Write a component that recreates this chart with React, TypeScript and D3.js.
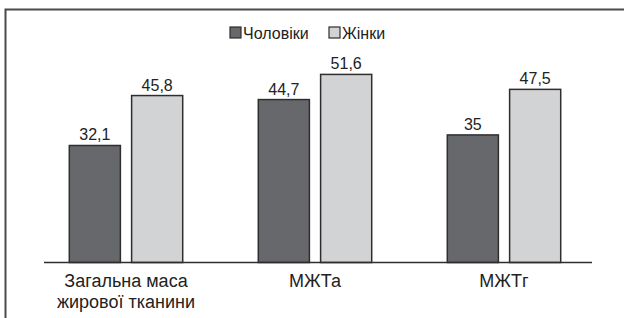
import React, { useEffect, useRef } from "react";
import * as d3 from "d3";

// data
const categories = ["Загальна маса\nжирової тканини", "МЖТа", "МЖТг"];
const seriesNames = ["Чоловіки", "Жінки"];
const men = [32.1, 44.7, 35];
const women = [45.8, 51.6, 47.5];
const valueLabels = [
  ["32,1", "44,7", "35"],
  ["45,8", "51,6", "47,5"],
];

const colors = ["#67686b", "#d2d3d5"];
const font = "'Liberation Sans', Arial, sans-serif";

export default function App() {
  const ref = useRef<SVGSVGElement | null>(null);

  useEffect(() => {
    const svg = d3.select(ref.current);
    svg.selectAll("*").remove();

    // outer frame (runs off the right and bottom edges)
    svg
      .append("rect")
      .attr("x", 5.5)
      .attr("y", 9.5)
      .attr("width", 700)
      .attr("height", 400)
      .attr("fill", "#fff")
      .attr("stroke", "#4a4a4a")
      .attr("stroke-width", 2);

    const x0 = d3
      .scaleBand()
      .domain(categories)
      .range([31.5, 598.5])
      .paddingInner(0.4)
      .paddingOuter(0.2);

    const x1 = d3
      .scaleBand()
      .domain(seriesNames)
      .range([0, x0.bandwidth()])
      .paddingInner(0.18);

    const y = d3.scaleLinear().domain([0, 60]).range([262.5, 43.8]);

    const series = [men, women];
    const rows = categories.flatMap((c, i) =>
      seriesNames.map((s, k) => ({ c, s, k, v: series[k][i], label: valueLabels[k][i] }))
    );

    const g = svg.append("g");

    g.selectAll("rect.bar")
      .data(rows)
      .enter()
      .append("rect")
      .attr("class", "bar")
      .attr("x", (d) => (x0(d.c) as number) + (x1(d.s) as number))
      .attr("y", (d) => y(d.v))
      .attr("width", x1.bandwidth())
      .attr("height", (d) => y(0) - y(d.v))
      .attr("fill", (d) => colors[d.k])
      .attr("stroke", "#2e2e2e")
      .attr("stroke-width", 1.5);

    g.selectAll("text.val")
      .data(rows)
      .enter()
      .append("text")
      .attr("class", "val")
      .attr("x", (d) => (x0(d.c) as number) + (x1(d.s) as number) + x1.bandwidth() / 2)
      .attr("y", (d) => y(d.v) - 5)
      .attr("text-anchor", "middle")
      .attr("font-family", font)
      .attr("font-size", 16)
      .attr("fill", "#222")
      .text((d) => d.label);

    // baseline
    g.append("line")
      .attr("x1", 44)
      .attr("x2", 592)
      .attr("y1", y(0))
      .attr("y2", y(0))
      .attr("stroke", "#2e2e2e")
      .attr("stroke-width", 1.5);

    // category labels
    const cat = g
      .selectAll("text.cat")
      .data(categories)
      .enter()
      .append("text")
      .attr("class", "cat")
      .attr("text-anchor", "middle")
      .attr("font-family", font)
      .attr("font-size", 18)
      .attr("fill", "#222");
    cat
      .selectAll("tspan")
      .data((d) => d.split("\n").map((t) => ({ t, c: d })))
      .enter()
      .append("tspan")
      .attr("x", (d) => (x0(d.c) as number) + x0.bandwidth() / 2)
      .attr("y", (d, i) => 287 + i * 21)
      .text((d) => d.t);

    // legend
    const legendX = [230, 329];
    const lg = svg
      .selectAll("g.legend")
      .data(seriesNames)
      .enter()
      .append("g")
      .attr("class", "legend")
      .attr("transform", (d, i) => `translate(${legendX[i]},27)`);
    lg.append("rect")
      .attr("width", 11)
      .attr("height", 11)
      .attr("fill", (d, i) => colors[i])
      .attr("stroke", "#2e2e2e")
      .attr("stroke-width", 1.2);
    lg.append("text")
      .attr("x", 13)
      .attr("y", 11.5)
      .attr("font-family", font)
      .attr("font-size", 16)
      .attr("fill", "#222")
      .text((d) => d);
  }, []);

  return (
    <svg
      ref={ref}
      width={624}
      height={318}
      style={{ position: "absolute", left: 0, top: 0, background: "#fff", overflow: "hidden" }}
    />
  );
}
